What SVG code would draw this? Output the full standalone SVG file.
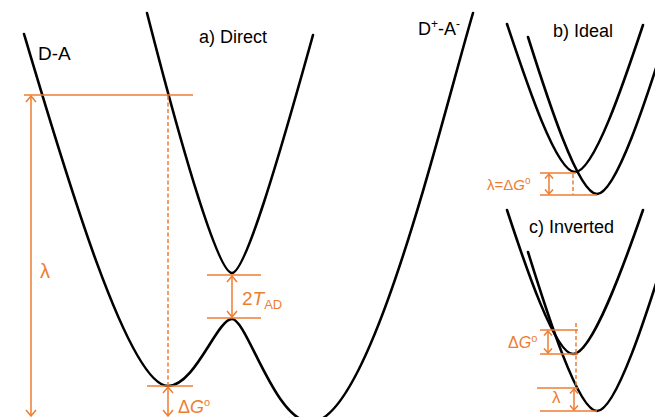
<svg xmlns="http://www.w3.org/2000/svg" width="655" height="417" viewBox="0 0 655 417">
<defs>
<style>
.c{fill:none;stroke:#000;stroke-width:2.6;stroke-linecap:round}
.o{fill:none;stroke:#ED7D31;stroke-width:1.5}
.d{fill:none;stroke:#ED7D31;stroke-width:1.5;stroke-dasharray:4 2.5}
.a{fill:none;stroke:#ED7D31;stroke-width:1.5;marker-start:url(#ah);marker-end:url(#ah)}
.s{fill:none;stroke:#ED7D31;stroke-width:1.5;marker-start:url(#as);marker-end:url(#as)}
.t{font-family:"Liberation Sans",Arial,sans-serif;fill:#000}
.ot{font-family:"Liberation Sans",Arial,sans-serif;fill:#ED7D31}
</style>
<marker id="ah" markerUnits="userSpaceOnUse" markerWidth="12" markerHeight="12" viewBox="0 0 12 12" refX="11" refY="6" orient="auto-start-reverse"><path d="M5,1 L11,6 L5,11" fill="none" stroke="#ED7D31" stroke-width="1.5"/></marker>
<marker id="as" markerUnits="userSpaceOnUse" markerWidth="10" markerHeight="10" viewBox="0 0 10 10" refX="9" refY="5" orient="auto-start-reverse"><path d="M4.5,1 L9,5 L4.5,9" fill="none" stroke="#ED7D31" stroke-width="1.5"/></marker>
</defs>
<rect width="655" height="417" fill="#fff"/>

<g id="panel-a-curves">
<path id="a-lower" class="c" d="M24,34 C64,169 128,386 168,386 C195,386 217,319 232,319 C247,319 275,422 311,422 C370,422 440,125 473,13"/>
<path id="a-upper" class="c" d="M147,13 C187,169 219,273 232,273 C245,273 278,161 313,35"/>
</g>
<g id="panel-b-curves">
<path id="b-DA" class="c" d="M507,24 C526,81 556,172 575,172 C594,172 624,82 643,25"/>
<path id="b-DpAm" class="c" d="M528,37 C547,97 578,194 597,194 C616,194 647,97 666,37"/>
</g>
<g id="panel-c-curves">
<path id="c-DA" class="c" d="M507,210 C525,265 555,354 573,354 C592,354 624,265 643,210"/>
<path id="c-DpAm" class="c" d="M528,252 C547,313 578,411 597,411 C616,411 647,313 666,252"/>
</g>

<g id="connectors">
<line class="o" x1="24" y1="95" x2="193" y2="95"/>
<line class="a" x1="31" y1="96" x2="31" y2="416"/>
<line class="d" x1="168" y1="96" x2="168" y2="385"/>
<line class="o" x1="147" y1="386" x2="193" y2="386"/>
<line class="a" x1="168" y1="387" x2="168" y2="416"/>
<line class="o" x1="207" y1="275" x2="261" y2="275"/>
<line class="o" x1="207" y1="318" x2="261" y2="318"/>
<line class="a" x1="232" y1="276" x2="232" y2="317"/>

<line class="o" x1="540" y1="173" x2="576" y2="173"/>
<line class="o" x1="540" y1="195" x2="597" y2="195"/>
<line class="s" x1="549" y1="174" x2="549" y2="194"/>
<line class="d" x1="573" y1="174" x2="573" y2="195"/>

<line class="o" x1="540" y1="330" x2="578" y2="330"/>
<line class="o" x1="540" y1="354" x2="578" y2="354"/>
<line class="s" x1="548" y1="331" x2="548" y2="353"/>
<line class="d" x1="576" y1="323" x2="576" y2="388"/>
<line class="o" x1="537" y1="388" x2="578" y2="388"/>
<line class="o" x1="540" y1="411" x2="597" y2="411"/>
<line class="s" x1="574" y1="389" x2="574" y2="410"/>
</g>

<g id="labels">
<text id="t-DA" class="t" x="38" y="60" font-size="19">D-A</text>
<text id="t-direct" class="t" x="199" y="43" font-size="18">a) Direct</text>
<text id="t-DpAm" class="t" x="418" y="35" font-size="18">D<tspan dy="-7" font-size="12">+</tspan><tspan dy="7">-A</tspan><tspan dy="-7" font-size="12">-</tspan></text>
<text id="t-ideal" class="t" x="553" y="37" font-size="18">b) Ideal</text>
<text id="t-inverted" class="t" x="529" y="233" font-size="18">c) Inverted</text>
<text id="t-lambda-a" class="ot" x="40" y="278" font-size="20">λ</text>
<text id="t-2tad" class="ot" x="242" y="305" font-size="19">2<tspan font-style="italic">T</tspan><tspan dy="4" font-size="13">AD</tspan></text>
<text id="t-dg-a" class="ot" x="178" y="413" font-size="18">Δ<tspan font-style="italic">G</tspan><tspan dy="-7" font-size="11">o</tspan></text>
<text id="t-ideal-eq" class="ot" x="487" y="190" font-size="15">λ=Δ<tspan font-style="italic">G</tspan><tspan dy="-6" font-size="10">o</tspan></text>
<text id="t-dg-c" class="ot" x="508" y="348" font-size="16">Δ<tspan font-style="italic">G</tspan><tspan dy="-6" font-size="11">o</tspan></text>
<text id="t-lambda-c" class="ot" x="552" y="403" font-size="17">λ</text>
</g>
</svg>
